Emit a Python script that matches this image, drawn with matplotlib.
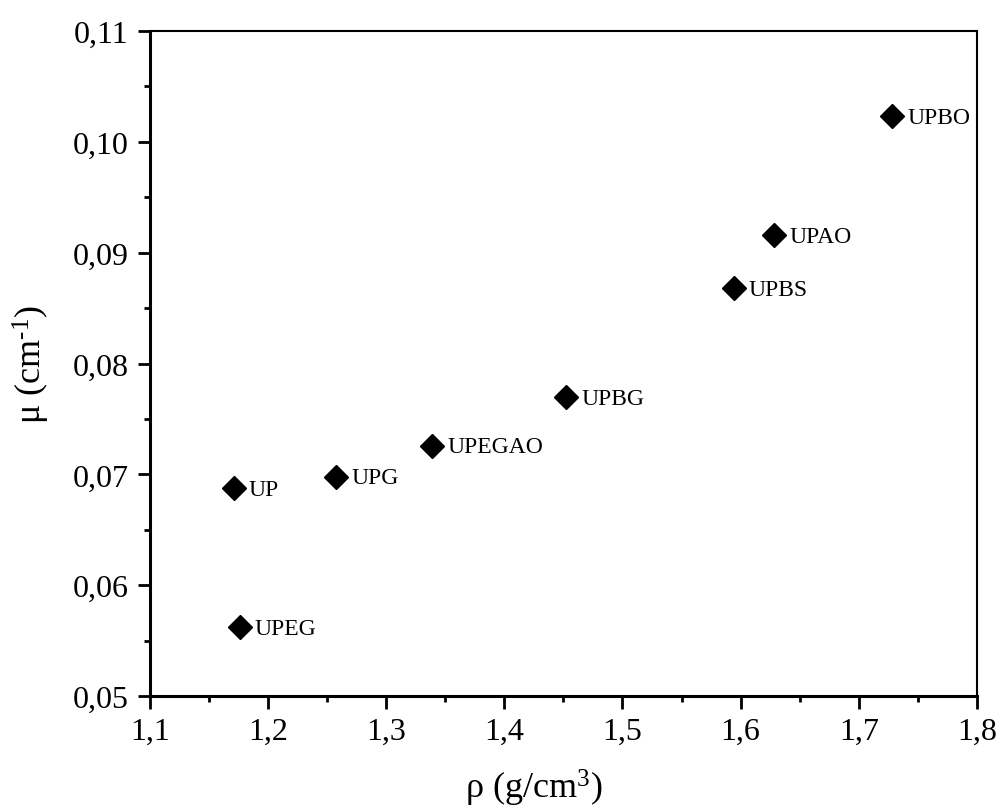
import matplotlib
matplotlib.use("Agg")
import matplotlib.pyplot as plt
from matplotlib.ticker import FuncFormatter, MultipleLocator

plt.rcParams['font.family'] = ['Liberation Serif', 'DejaVu Serif']
plt.rcParams['mathtext.fontset'] = 'custom'
plt.rcParams['mathtext.rm'] = 'Liberation Serif'
plt.rcParams['mathtext.it'] = 'Liberation Serif:italic'

names = ["UP", "UPEG", "UPG", "UPEGAO", "UPBG", "UPBS", "UPAO", "UPBO"]
density = [1.171, 1.176, 1.258, 1.339, 1.452, 1.594, 1.628, 1.728]
mu = [0.0688, 0.0562, 0.0698, 0.0726, 0.0770, 0.0868, 0.0916, 0.1023]

fig = plt.figure(figsize=(9.98, 8.12), dpi=100)
ax = fig.add_axes([0.150, 0.1416, 0.829, 0.819])
ax.plot(density, mu, linestyle='none', marker='D', color='black', markersize=12)
for n, x, y in zip(names, density, mu):
    ax.annotate(n, (x, y), xytext=(11, -1), textcoords='offset points',
                va='center', ha='left', fontsize=17)

ax.set_xlim(1.1, 1.8)
ax.set_ylim(0.05, 0.11)
ax.xaxis.set_major_locator(MultipleLocator(0.1))
ax.xaxis.set_minor_locator(MultipleLocator(0.05))
ax.yaxis.set_major_locator(MultipleLocator(0.01))
ax.yaxis.set_minor_locator(MultipleLocator(0.005))
ax.xaxis.set_major_formatter(FuncFormatter(lambda v, p: f"{v:.1f}".replace('.', ',')))
ax.yaxis.set_major_formatter(FuncFormatter(lambda v, p: f"{v:.2f}".replace('.', ',')))
ax.tick_params(which='both', direction='out', top=False, right=False, width=2)
ax.tick_params(which='major', length=9, labelsize=23, pad=6)
ax.tick_params(which='minor', length=4.5)
for s in ax.spines.values():
    s.set_linewidth(1.5)
ax.spines['left'].set_linewidth(2.2)
ax.spines['bottom'].set_linewidth(2.2)

ax.set_xlabel(r"ρ (g/cm$^3$)", fontsize=26)
ax.set_ylabel(r"μ (cm$^{\mathrm{‐1}}$)", fontsize=26)
ax.xaxis.set_label_coords(0.464, -0.106)
ax.yaxis.set_label_coords(-0.118, 0.5)

fig.savefig("out.png", dpi=100)
